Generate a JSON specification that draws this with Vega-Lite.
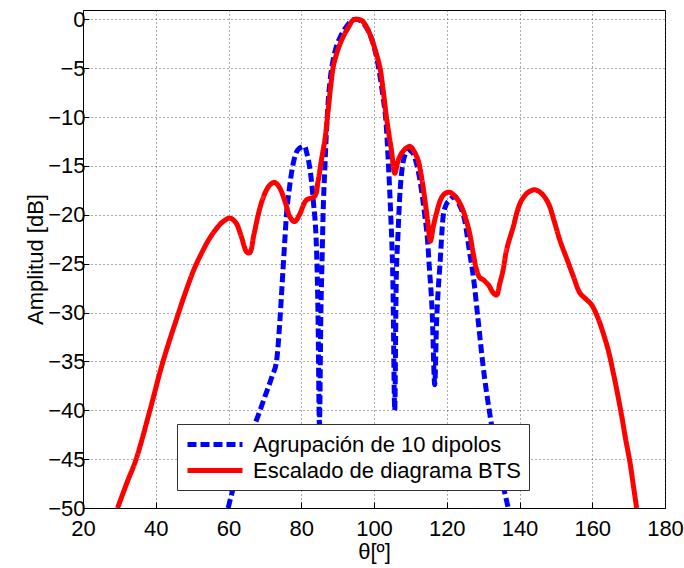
{
  "$schema": "https://vega.github.io/schema/vega-lite/v6.json",
  "width": 582,
  "height": 498,
  "autosize": {"type": "none"},
  "padding": {"left": 83, "top": 10, "right": 19, "bottom": 60},
  "background": "white",
  "config": {
    "font": "Liberation Sans",
    "view": {"stroke": "black", "strokeWidth": 1},
    "axis": {
      "labelFont": "Liberation Sans",
      "titleFont": "Liberation Sans",
      "labelFontSize": 22,
      "titleFontSize": 22,
      "titleFontWeight": "normal",
      "labelColor": "black",
      "titleColor": "black",
      "domainColor": "black",
      "tickColor": "black",
      "tickSize": -6,
      "labelFlush": false,
      "gridColor": "#444",
      "gridDash": [1, 3],
      "gridOpacity": 0.9,
      "gridWidth": 1
    },
    "legend": {
      "orient": "none", "legendX": 94, "legendY": 414,
      "symbolType": "M-1,0H4.5", "symbolSize": 400, "symbolStrokeWidth": 5,
      "labelFontSize": 22, "labelFont": "Liberation Sans", "labelColor": "black", "labelLimit": 500,
      "fillColor": "white", "strokeColor": "#333", "padding": 8, "rowPadding": 2,
      "labelOffset": 43
    }
  },
  "data": {
    "values": [
      {"theta": 59.9, "amp": -50, "serie": "Agrupación de 10 dipolos"},
      {"theta": 62, "amp": -47, "serie": "Agrupación de 10 dipolos"},
      {"theta": 64, "amp": -44.5, "serie": "Agrupación de 10 dipolos"},
      {"theta": 66, "amp": -42.5, "serie": "Agrupación de 10 dipolos"},
      {"theta": 67.7, "amp": -41, "serie": "Agrupación de 10 dipolos"},
      {"theta": 70, "amp": -38.6, "serie": "Agrupación de 10 dipolos"},
      {"theta": 72, "amp": -36.5, "serie": "Agrupación de 10 dipolos"},
      {"theta": 73.2, "amp": -35, "serie": "Agrupación de 10 dipolos"},
      {"theta": 74.1, "amp": -31, "serie": "Agrupación de 10 dipolos"},
      {"theta": 74.6, "amp": -28, "serie": "Agrupación de 10 dipolos"},
      {"theta": 75, "amp": -25.5, "serie": "Agrupación de 10 dipolos"},
      {"theta": 75.5, "amp": -22.5, "serie": "Agrupación de 10 dipolos"},
      {"theta": 75.9, "amp": -20.2, "serie": "Agrupación de 10 dipolos"},
      {"theta": 76.8, "amp": -17.1, "serie": "Agrupación de 10 dipolos"},
      {"theta": 78.2, "amp": -14.1, "serie": "Agrupación de 10 dipolos"},
      {"theta": 79.5, "amp": -13.2, "serie": "Agrupación de 10 dipolos"},
      {"theta": 80.9, "amp": -13.0, "serie": "Agrupación de 10 dipolos"},
      {"theta": 81.6, "amp": -13.8, "serie": "Agrupación de 10 dipolos"},
      {"theta": 82.3, "amp": -15.1, "serie": "Agrupación de 10 dipolos"},
      {"theta": 83.3, "amp": -18.5, "serie": "Agrupación de 10 dipolos"},
      {"theta": 84.2, "amp": -23.6, "serie": "Agrupación de 10 dipolos"},
      {"theta": 84.6, "amp": -30, "serie": "Agrupación de 10 dipolos"},
      {"theta": 85.0, "amp": -41.5, "serie": "Agrupación de 10 dipolos"},
      {"theta": 85.4, "amp": -30, "serie": "Agrupación de 10 dipolos"},
      {"theta": 85.7, "amp": -25, "serie": "Agrupación de 10 dipolos"},
      {"theta": 86.0, "amp": -20, "serie": "Agrupación de 10 dipolos"},
      {"theta": 86.5, "amp": -15.1, "serie": "Agrupación de 10 dipolos"},
      {"theta": 86.9, "amp": -11.7, "serie": "Agrupación de 10 dipolos"},
      {"theta": 87.3, "amp": -9, "serie": "Agrupación de 10 dipolos"},
      {"theta": 88.0, "amp": -6, "serie": "Agrupación de 10 dipolos"},
      {"theta": 88.6, "amp": -4.5, "serie": "Agrupación de 10 dipolos"},
      {"theta": 89.5, "amp": -3, "serie": "Agrupación de 10 dipolos"},
      {"theta": 91, "amp": -1.6, "serie": "Agrupación de 10 dipolos"},
      {"theta": 92.5, "amp": -0.7, "serie": "Agrupación de 10 dipolos"},
      {"theta": 94, "amp": -0.1, "serie": "Agrupación de 10 dipolos"},
      {"theta": 95, "amp": 0, "serie": "Agrupación de 10 dipolos"},
      {"theta": 96.5, "amp": -0.2, "serie": "Agrupación de 10 dipolos"},
      {"theta": 98, "amp": -0.9, "serie": "Agrupación de 10 dipolos"},
      {"theta": 99.7, "amp": -2.4, "serie": "Agrupación de 10 dipolos"},
      {"theta": 101.2, "amp": -4.8, "serie": "Agrupación de 10 dipolos"},
      {"theta": 102.5, "amp": -8, "serie": "Agrupación de 10 dipolos"},
      {"theta": 103.3, "amp": -10.5, "serie": "Agrupación de 10 dipolos"},
      {"theta": 104, "amp": -15.1, "serie": "Agrupación de 10 dipolos"},
      {"theta": 104.6, "amp": -20, "serie": "Agrupación de 10 dipolos"},
      {"theta": 105.2, "amp": -27, "serie": "Agrupación de 10 dipolos"},
      {"theta": 105.7, "amp": -40, "serie": "Agrupación de 10 dipolos"},
      {"theta": 106.1, "amp": -27, "serie": "Agrupación de 10 dipolos"},
      {"theta": 106.6, "amp": -22, "serie": "Agrupación de 10 dipolos"},
      {"theta": 107.1, "amp": -18, "serie": "Agrupación de 10 dipolos"},
      {"theta": 107.6, "amp": -15.7, "serie": "Agrupación de 10 dipolos"},
      {"theta": 108.4, "amp": -14, "serie": "Agrupación de 10 dipolos"},
      {"theta": 109.4, "amp": -13.4, "serie": "Agrupación de 10 dipolos"},
      {"theta": 110.5, "amp": -13.6, "serie": "Agrupación de 10 dipolos"},
      {"theta": 111.5, "amp": -14.5, "serie": "Agrupación de 10 dipolos"},
      {"theta": 112.6, "amp": -16.4, "serie": "Agrupación de 10 dipolos"},
      {"theta": 114, "amp": -20.2, "serie": "Agrupación de 10 dipolos"},
      {"theta": 114.7, "amp": -22.5, "serie": "Agrupación de 10 dipolos"},
      {"theta": 115.2, "amp": -25.3, "serie": "Agrupación de 10 dipolos"},
      {"theta": 116, "amp": -30, "serie": "Agrupación de 10 dipolos"},
      {"theta": 116.7, "amp": -37.4, "serie": "Agrupación de 10 dipolos"},
      {"theta": 117.2, "amp": -31, "serie": "Agrupación de 10 dipolos"},
      {"theta": 117.6, "amp": -28, "serie": "Agrupación de 10 dipolos"},
      {"theta": 118.1, "amp": -25.3, "serie": "Agrupación de 10 dipolos"},
      {"theta": 119, "amp": -20.2, "serie": "Agrupación de 10 dipolos"},
      {"theta": 119.8, "amp": -19, "serie": "Agrupación de 10 dipolos"},
      {"theta": 120.8, "amp": -18.5, "serie": "Agrupación de 10 dipolos"},
      {"theta": 122.2, "amp": -18.1, "serie": "Agrupación de 10 dipolos"},
      {"theta": 123.5, "amp": -19, "serie": "Agrupación de 10 dipolos"},
      {"theta": 124.9, "amp": -20.5, "serie": "Agrupación de 10 dipolos"},
      {"theta": 126.3, "amp": -23.9, "serie": "Agrupación de 10 dipolos"},
      {"theta": 127.3, "amp": -26.3, "serie": "Agrupación de 10 dipolos"},
      {"theta": 128.6, "amp": -30.7, "serie": "Agrupación de 10 dipolos"},
      {"theta": 130, "amp": -35.5, "serie": "Agrupación de 10 dipolos"},
      {"theta": 131.8, "amp": -40.3, "serie": "Agrupación de 10 dipolos"},
      {"theta": 133, "amp": -43, "serie": "Agrupación de 10 dipolos"},
      {"theta": 134.6, "amp": -46.1, "serie": "Agrupación de 10 dipolos"},
      {"theta": 136.9, "amp": -50, "serie": "Agrupación de 10 dipolos"},
      {"theta": 29.5, "amp": -50, "serie": "Escalado de diagrama BTS"},
      {"theta": 32, "amp": -47.5, "serie": "Escalado de diagrama BTS"},
      {"theta": 34.6, "amp": -45, "serie": "Escalado de diagrama BTS"},
      {"theta": 38.4, "amp": -40, "serie": "Escalado de diagrama BTS"},
      {"theta": 42, "amp": -35, "serie": "Escalado de diagrama BTS"},
      {"theta": 46.3, "amp": -30, "serie": "Escalado de diagrama BTS"},
      {"theta": 48.3, "amp": -27.8, "serie": "Escalado de diagrama BTS"},
      {"theta": 50.5, "amp": -25.6, "serie": "Escalado de diagrama BTS"},
      {"theta": 52.5, "amp": -24, "serie": "Escalado de diagrama BTS"},
      {"theta": 54.5, "amp": -22.6, "serie": "Escalado de diagrama BTS"},
      {"theta": 56.5, "amp": -21.5, "serie": "Escalado de diagrama BTS"},
      {"theta": 58.5, "amp": -20.7, "serie": "Escalado de diagrama BTS"},
      {"theta": 60.4, "amp": -20.35, "serie": "Escalado de diagrama BTS"},
      {"theta": 62, "amp": -20.8, "serie": "Escalado de diagrama BTS"},
      {"theta": 63.5, "amp": -22.2, "serie": "Escalado de diagrama BTS"},
      {"theta": 65, "amp": -23.8, "serie": "Escalado de diagrama BTS"},
      {"theta": 65.8, "amp": -23.9, "serie": "Escalado de diagrama BTS"},
      {"theta": 67, "amp": -22, "serie": "Escalado de diagrama BTS"},
      {"theta": 68.5, "amp": -19.5, "serie": "Escalado de diagrama BTS"},
      {"theta": 70, "amp": -17.8, "serie": "Escalado de diagrama BTS"},
      {"theta": 71.5, "amp": -16.9, "serie": "Escalado de diagrama BTS"},
      {"theta": 72.7, "amp": -16.7, "serie": "Escalado de diagrama BTS"},
      {"theta": 74, "amp": -17.2, "serie": "Escalado de diagrama BTS"},
      {"theta": 75.5, "amp": -18.6, "serie": "Escalado de diagrama BTS"},
      {"theta": 77, "amp": -20.3, "serie": "Escalado de diagrama BTS"},
      {"theta": 78.2, "amp": -20.7, "serie": "Escalado de diagrama BTS"},
      {"theta": 79.5, "amp": -20, "serie": "Escalado de diagrama BTS"},
      {"theta": 81.4, "amp": -18.5, "serie": "Escalado de diagrama BTS"},
      {"theta": 83.7, "amp": -18.1, "serie": "Escalado de diagrama BTS"},
      {"theta": 84.6, "amp": -16.6, "serie": "Escalado de diagrama BTS"},
      {"theta": 85.5, "amp": -14.5, "serie": "Escalado de diagrama BTS"},
      {"theta": 86.5, "amp": -12.3, "serie": "Escalado de diagrama BTS"},
      {"theta": 87.4, "amp": -9.3, "serie": "Escalado de diagrama BTS"},
      {"theta": 88.2, "amp": -6.5, "serie": "Escalado de diagrama BTS"},
      {"theta": 88.8, "amp": -4.85, "serie": "Escalado de diagrama BTS"},
      {"theta": 90, "amp": -3.2, "serie": "Escalado de diagrama BTS"},
      {"theta": 91.5, "amp": -1.8, "serie": "Escalado de diagrama BTS"},
      {"theta": 93, "amp": -0.8, "serie": "Escalado de diagrama BTS"},
      {"theta": 94.2, "amp": -0.1, "serie": "Escalado de diagrama BTS"},
      {"theta": 95.2, "amp": 0, "serie": "Escalado de diagrama BTS"},
      {"theta": 96.2, "amp": -0.05, "serie": "Escalado de diagrama BTS"},
      {"theta": 97, "amp": -0.25, "serie": "Escalado de diagrama BTS"},
      {"theta": 98.5, "amp": -1.2, "serie": "Escalado de diagrama BTS"},
      {"theta": 99.75, "amp": -2.45, "serie": "Escalado de diagrama BTS"},
      {"theta": 100.7, "amp": -3.6, "serie": "Escalado de diagrama BTS"},
      {"theta": 101.6, "amp": -4.85, "serie": "Escalado de diagrama BTS"},
      {"theta": 102.5, "amp": -7.2, "serie": "Escalado de diagrama BTS"},
      {"theta": 103.4, "amp": -9.96, "serie": "Escalado de diagrama BTS"},
      {"theta": 104.2, "amp": -12, "serie": "Escalado de diagrama BTS"},
      {"theta": 104.8, "amp": -13.4, "serie": "Escalado de diagrama BTS"},
      {"theta": 105.7, "amp": -15.75, "serie": "Escalado de diagrama BTS"},
      {"theta": 106.6, "amp": -14.5, "serie": "Escalado de diagrama BTS"},
      {"theta": 107.6, "amp": -13.7, "serie": "Escalado de diagrama BTS"},
      {"theta": 108.8, "amp": -13.2, "serie": "Escalado de diagrama BTS"},
      {"theta": 109.9, "amp": -13.0, "serie": "Escalado de diagrama BTS"},
      {"theta": 111, "amp": -13.5, "serie": "Escalado de diagrama BTS"},
      {"theta": 112.1, "amp": -14.4, "serie": "Escalado de diagrama BTS"},
      {"theta": 113, "amp": -16, "serie": "Escalado de diagrama BTS"},
      {"theta": 114, "amp": -18.5, "serie": "Escalado de diagrama BTS"},
      {"theta": 114.8, "amp": -20.8, "serie": "Escalado de diagrama BTS"},
      {"theta": 115.5, "amp": -22.7, "serie": "Escalado de diagrama BTS"},
      {"theta": 116.3, "amp": -21.2, "serie": "Escalado de diagrama BTS"},
      {"theta": 117.2, "amp": -19.8, "serie": "Escalado de diagrama BTS"},
      {"theta": 118.5, "amp": -18.3, "serie": "Escalado de diagrama BTS"},
      {"theta": 119.6, "amp": -17.8, "serie": "Escalado de diagrama BTS"},
      {"theta": 120.8, "amp": -17.7, "serie": "Escalado de diagrama BTS"},
      {"theta": 122.5, "amp": -18.2, "serie": "Escalado de diagrama BTS"},
      {"theta": 124.1, "amp": -19.2, "serie": "Escalado de diagrama BTS"},
      {"theta": 125.3, "amp": -20.5, "serie": "Escalado de diagrama BTS"},
      {"theta": 126.3, "amp": -21.9, "serie": "Escalado de diagrama BTS"},
      {"theta": 127.3, "amp": -24, "serie": "Escalado de diagrama BTS"},
      {"theta": 128.2, "amp": -25.6, "serie": "Escalado de diagrama BTS"},
      {"theta": 129, "amp": -26.4, "serie": "Escalado de diagrama BTS"},
      {"theta": 130, "amp": -26.65, "serie": "Escalado de diagrama BTS"},
      {"theta": 131.5, "amp": -27.2, "serie": "Escalado de diagrama BTS"},
      {"theta": 132.8, "amp": -28.0, "serie": "Escalado de diagrama BTS"},
      {"theta": 133.7, "amp": -28.2, "serie": "Escalado de diagrama BTS"},
      {"theta": 134.6, "amp": -27, "serie": "Escalado de diagrama BTS"},
      {"theta": 135.5, "amp": -25.6, "serie": "Escalado de diagrama BTS"},
      {"theta": 136.5, "amp": -23.5, "serie": "Escalado de diagrama BTS"},
      {"theta": 138.3, "amp": -21.2, "serie": "Escalado de diagrama BTS"},
      {"theta": 139.5, "amp": -19.5, "serie": "Escalado de diagrama BTS"},
      {"theta": 140.6, "amp": -18.5, "serie": "Escalado de diagrama BTS"},
      {"theta": 142.4, "amp": -17.7, "serie": "Escalado de diagrama BTS"},
      {"theta": 144.2, "amp": -17.45, "serie": "Escalado de diagrama BTS"},
      {"theta": 146, "amp": -17.8, "serie": "Escalado de diagrama BTS"},
      {"theta": 147.9, "amp": -18.8, "serie": "Escalado de diagrama BTS"},
      {"theta": 149.5, "amp": -20.6, "serie": "Escalado de diagrama BTS"},
      {"theta": 151.1, "amp": -22.6, "serie": "Escalado de diagrama BTS"},
      {"theta": 153, "amp": -24.5, "serie": "Escalado de diagrama BTS"},
      {"theta": 154.8, "amp": -26.3, "serie": "Escalado de diagrama BTS"},
      {"theta": 156.6, "amp": -28.0, "serie": "Escalado de diagrama BTS"},
      {"theta": 158.2, "amp": -28.6, "serie": "Escalado de diagrama BTS"},
      {"theta": 159.8, "amp": -29.2, "serie": "Escalado de diagrama BTS"},
      {"theta": 161.5, "amp": -30.5, "serie": "Escalado de diagrama BTS"},
      {"theta": 163, "amp": -32.1, "serie": "Escalado de diagrama BTS"},
      {"theta": 164.5, "amp": -34, "serie": "Escalado de diagrama BTS"},
      {"theta": 165.8, "amp": -36.2, "serie": "Escalado de diagrama BTS"},
      {"theta": 167, "amp": -38.4, "serie": "Escalado de diagrama BTS"},
      {"theta": 168.1, "amp": -40.6, "serie": "Escalado de diagrama BTS"},
      {"theta": 169.2, "amp": -43, "serie": "Escalado de diagrama BTS"},
      {"theta": 170.4, "amp": -45.4, "serie": "Escalado de diagrama BTS"},
      {"theta": 171.3, "amp": -47.7, "serie": "Escalado de diagrama BTS"},
      {"theta": 172.2, "amp": -50, "serie": "Escalado de diagrama BTS"}
    ]
  },
  "encoding": {
    "x": {
      "field": "theta", "type": "quantitative",
      "scale": {"domain": [20, 180], "nice": false, "zero": false},
      "axis": {"values": [20, 40, 60, 80, 100, 120, 140, 160, 180], "title": "θ[º]", "titlePadding": 2, "labelPadding": 16}
    },
    "y": {
      "field": "amp", "type": "quantitative",
      "scale": {"domain": [-50, 0.95], "nice": false, "zero": false},
      "axis": {"values": [0, -5, -10, -15, -20, -25, -30, -35, -40, -45, -50], "title": "Amplitud [dB]", "titlePadding": 0, "labelPadding": 4}
    },
    "color": {
      "field": "serie", "type": "nominal",
      "scale": {"domain": ["Agrupación de 10 dipolos", "Escalado de diagrama BTS"], "range": ["#0000ff", "#ff0000"]},
      "legend": {"title": null}
    },
    "strokeDash": {
      "field": "serie", "type": "nominal",
      "scale": {"domain": ["Agrupación de 10 dipolos", "Escalado de diagrama BTS"], "range": [[9, 4], [1, 0]]},
      "legend": {"title": null}
    }
  },
  "layer": [
    {
      "transform": [{"filter": "datum.serie == 'Agrupación de 10 dipolos'"}],
      "mark": {"type": "line", "strokeWidth": 5, "clip": true, "interpolate": "monotone"}
    },
    {
      "transform": [{"filter": "datum.serie == 'Escalado de diagrama BTS'"}],
      "mark": {"type": "line", "strokeWidth": 5, "clip": true, "interpolate": "catmull-rom"}
    }
  ]
}
